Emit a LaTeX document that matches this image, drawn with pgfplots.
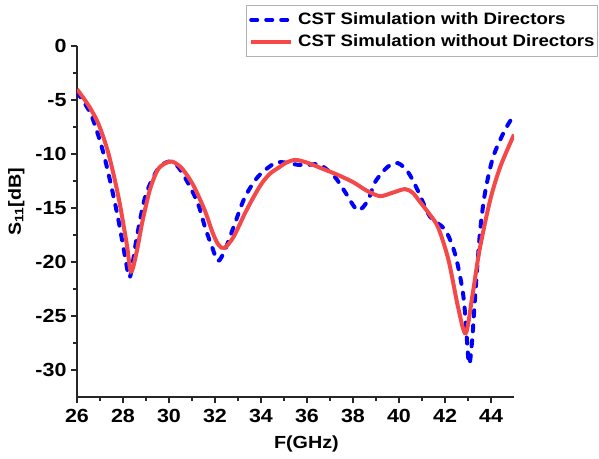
\documentclass[border=0pt]{standalone}
\usepackage{pgfplots}
\pgfplotsset{compat=1.18}
\usepackage{fontspec}
\setmainfont{Liberation Sans}[FakeStretch=1.13]
\definecolor{simred}{RGB}{245,72,72}
\definecolor{simblue}{RGB}{0,0,255}
\newcommand{\tickfont}{\fontsize{19}{22}\selectfont\bfseries}
\newcommand{\lblfont}{\fontsize{17.5}{20}\selectfont\bfseries}
\newcommand{\legfont}{\fontsize{16.5}{19}\selectfont\bfseries}

\begin{document}
\begin{tikzpicture}
\begin{axis}[
  name=ax,
  scale only axis,
  width=437pt, height=351pt,
  xmin=26, xmax=45,
  ymin=-32.5, ymax=0,
  axis x line*=bottom,
  axis y line*=left,
  axis line style={line width=1.3pt, black!85, -},
  xtick={26,28,...,44},
  ytick={0,-5,-10,-15,-20,-25,-30},
  minor x tick num=1,
  minor y tick num=1,
  tick align=outside,
  major tick length=6pt,
  minor tick length=3.5pt,
  every tick/.style={line width=1.3pt, black!85},
  /pgf/number format/assume math mode=true,
  ticklabel style={font=\tickfont},
  yticklabel style={xshift=-1pt},
  xticklabel style={yshift=-3pt},
  xlabel={F(GHz)},
  ylabel={S\textsubscript{11}[dB]},
  label style={font=\lblfont},
  xlabel style={at={(rel axis cs:0.525,0)}, anchor=north, yshift=-35pt},
  ylabel style={at={(rel axis cs:0,0.556)}, anchor=south, yshift=49pt},
  legend cell align=left,
  legend style={
    at={(1.192,1.117)}, anchor=north east,
    draw=gray!60, line width=0.8pt,
    font=\legfont,
    inner xsep=3pt, inner ysep=7pt,
    nodes={inner sep=0pt, text height=12pt, text depth=3pt},
    row sep=7pt,
    /tikz/every odd column/.append style={column sep=5pt},
  },
  legend image code/.code={\draw[#1] (0pt,0pt) -- (40pt,0pt);},
]
% S11 with directors
\addplot[simblue, line width=4pt, dash pattern=on 6pt off 9pt, line cap=round, smooth, tension=0.5] coordinates {
(26.0,-4.3) (26.3,-5.2) (26.64,-6.5) (27.07,-9.3) (27.43,-12.4) (27.8,-16.1)
(28.09,-19.5) (28.3,-21.4) (28.6,-17.7) (28.96,-14.0) (29.4,-11.8) (29.7,-11.0)
(30.05,-10.7) (30.4,-11.2) (30.83,-12.7) (31.26,-14.6) (31.57,-16.8) (31.87,-18.6)
(32.13,-19.9) (32.43,-18.9) (32.87,-16.4) (33.3,-14.0) (33.87,-12.1) (34.6,-10.85)
(35.1,-10.8) (35.6,-11.0) (36.1,-11.0) (36.57,-11.0) (37.2,-12.1) (37.65,-13.5)
(38.2,-15.2) (38.65,-14.3) (38.96,-12.6) (39.5,-11.2) (39.96,-10.85) (40.4,-11.7)
(40.8,-13.3) (41.35,-15.8) (42.0,-17.0) (42.43,-19.2) (42.74,-22.3) (42.87,-24.7)
(43.04,-29.4) (43.17,-27.5) (43.3,-23.5) (43.52,-17.3) (43.74,-13.6) (44.09,-10.3)
(44.6,-7.8) (45.0,-6.4)
};
\addlegendentry{CST Simulation with Directors}
% S11 without directors
\addplot[simred, line width=4pt, smooth, tension=0.5] coordinates {
(26.0,-4.0) (26.5,-5.5) (26.93,-7.2) (27.36,-9.9) (27.8,-13.95) (28.16,-18.3)
(28.35,-20.9) (28.6,-19.0) (28.83,-16.4) (29.17,-13.3)
(29.5,-11.5) (29.8,-10.9) (30.13,-10.7) (30.5,-11.2) (30.83,-12.1) (31.13,-13.2)
(31.57,-15.3) (31.9,-17.3) (32.15,-18.4) (32.4,-18.7) (32.8,-17.7) (33.3,-15.5)
(33.7,-13.9) (34.04,-12.7) (34.4,-11.8) (34.74,-11.3) (35.1,-10.8) (35.5,-10.55)
(36.0,-10.8) (36.6,-11.3) (37.3,-11.9) (38.0,-12.6) (38.6,-13.4) (39.17,-13.9)
(39.7,-13.6) (40.26,-13.25) (40.6,-13.6) (40.9,-14.4) (41.3,-15.5) (41.7,-16.8)
(42.15,-19.8) (42.57,-24.2) (42.9,-26.6) (43.2,-23.0) (43.5,-18.9) (43.96,-14.3)
(44.4,-11.2) (45.0,-8.2)
};
\addlegendentry{CST Simulation without Directors}
\end{axis}
% page frame around the axis and its labels
\path ([xshift=-77pt,yshift=-61pt]ax.south west) rectangle ([xshift=85pt,yshift=46pt]ax.north east);
\end{tikzpicture}
\end{document}
